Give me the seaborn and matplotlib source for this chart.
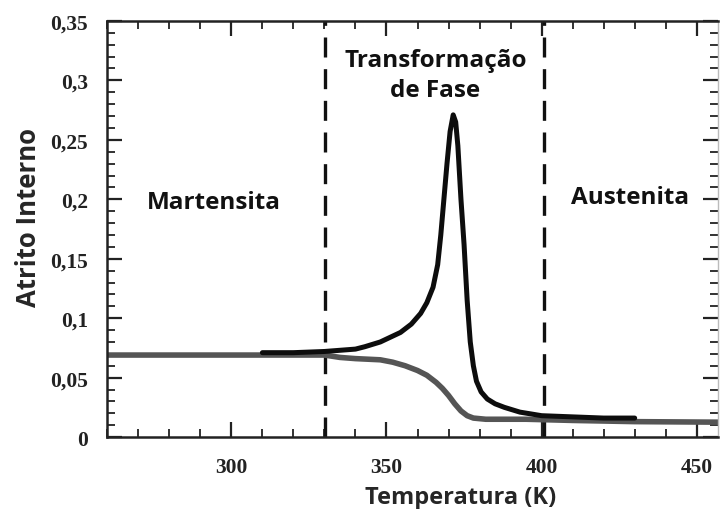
import matplotlib
matplotlib.use("Agg")
import matplotlib.pyplot as plt
import seaborn as sns
import pandas as pd
from matplotlib.ticker import MultipleLocator, FuncFormatter

# heating curve (black)
heat_T = [310, 320, 330, 335, 340, 343, 348, 354.5, 358, 361, 363, 365, 366.5,
          367.5, 368.5, 369.5, 370.5, 371.5, 372.3, 373, 374, 375, 376, 377,
          378, 379, 380.5, 382.5, 385, 388, 393, 400, 410, 420, 430]
heat_Q = [0.071, 0.071, 0.072, 0.073, 0.074, 0.076, 0.080, 0.088, 0.095, 0.104,
          0.113, 0.126, 0.145, 0.170, 0.200, 0.230, 0.257, 0.271, 0.265, 0.245,
          0.200, 0.162, 0.115, 0.080, 0.060, 0.047, 0.038, 0.032, 0.028, 0.025,
          0.021, 0.018, 0.017, 0.016, 0.016]
# cooling curve (gray)
cool_T = [260, 300, 330, 335, 340, 348, 352, 356, 360, 363, 366, 368, 370,
          372, 374, 376, 378, 382, 395, 410, 430, 460]
cool_Q = [0.069, 0.069, 0.069, 0.067, 0.066, 0.065, 0.063, 0.060, 0.056, 0.052,
          0.046, 0.041, 0.035, 0.028, 0.022, 0.018, 0.016, 0.015, 0.015, 0.014,
          0.013, 0.0125]

phase_bounds = [330.3, 400.8]
region_labels = ["Martensita", "Transformação\nde Fase", "Austenita"]
region_x = [294.5, 365.8, 428.6]
region_y = [0.198, 0.3045, 0.202]

sns.set_style("ticks")
plt.rcParams['font.family'] = ['Open Sans', 'DejaVu Sans']

fig = plt.figure(figsize=(7.2, 5.1), dpi=100)
ax = fig.add_axes([0.149, 0.141, 0.848, 0.816])

df_cool = pd.DataFrame({"T": cool_T, "Q": cool_Q})
df_heat = pd.DataFrame({"T": heat_T, "Q": heat_Q})
sns.lineplot(data=df_cool, x="T", y="Q", ax=ax, color="#555555", lw=4.0,
             sort=False, estimator=None)
sns.lineplot(data=df_heat, x="T", y="Q", ax=ax, color="#0d0d0d", lw=3.6,
             sort=False, estimator=None)

for xb in phase_bounds:
    ax.axvline(xb, color="#111111", lw=2.4, ls=(0, (6, 3.5)), zorder=1)

ax.set_xlim(260, 456.8)
ax.set_ylim(0, 0.35)

ax.xaxis.set_major_locator(MultipleLocator(50))
ax.xaxis.set_minor_locator(MultipleLocator(10))
ax.yaxis.set_major_locator(MultipleLocator(0.05))
ax.yaxis.set_minor_locator(MultipleLocator(0.01))
ax.yaxis.set_major_formatter(FuncFormatter(
    lambda v, p: "0" if abs(v) < 1e-9 else ("%.2f" % v).rstrip("0").replace(".", ",")))

ax.tick_params(which="both", direction="in", top=True, right=True,
               color="#222222")
ax.tick_params(which="major", length=11, width=1.6, pad=14)
ax.tick_params(which="minor", length=5.5, width=1.3)
for lab in ax.get_xticklabels() + ax.get_yticklabels():
    lab.set_family(['Liberation Serif'])
    lab.set_fontweight('bold')
    lab.set_fontsize(15.5)
    lab.set_color("#222222")

for s in ["left", "bottom", "top"]:
    ax.spines[s].set_linewidth(1.8)
    ax.spines[s].set_color("#222222")
ax.spines["right"].set_linewidth(1.0)
ax.spines["right"].set_color("#bbbbbb")

ax.set_xlabel("Temperatura (K)", fontsize=17, fontweight="bold")
ax.set_ylabel("Atrito Interno", fontsize=18.5, fontweight="bold")
ax.xaxis.set_label_coords(0.579, -0.115)
ax.yaxis.set_label_coords(-0.107, 0.531)

for lbl, xx, yy in zip(region_labels, region_x, region_y):
    ax.text(xx, yy, lbl, ha="center", va="center", fontsize=17.5,
            fontweight="bold", color="#111111", linespacing=1.3)

fig.savefig("out.png", dpi=100)
